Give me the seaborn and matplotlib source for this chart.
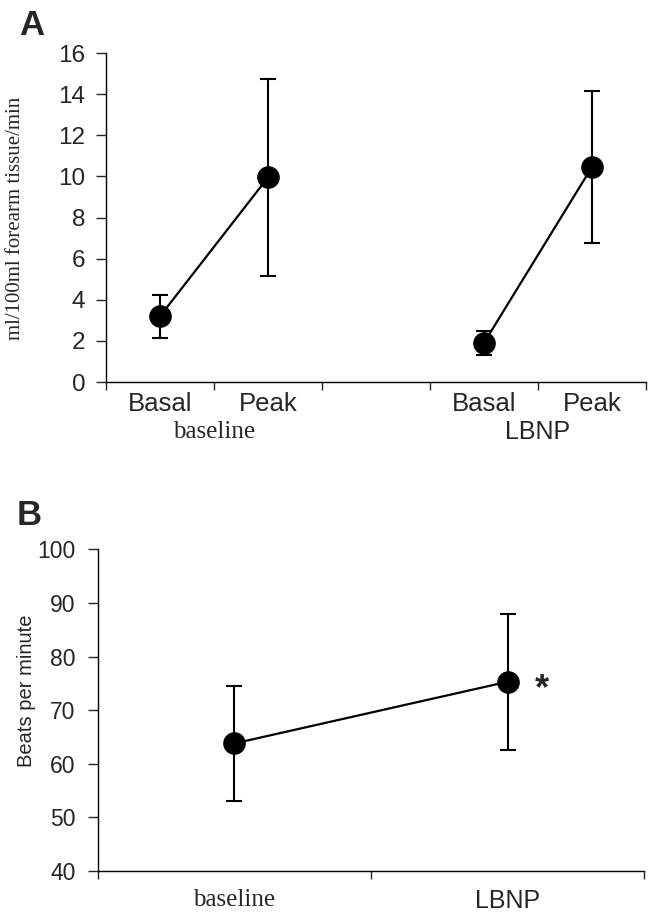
import matplotlib
matplotlib.use("Agg")
import matplotlib.pyplot as plt
import seaborn as sns
import pandas as pd

# panel A: forearm blood flow
flow_group = ["baseline", "baseline", "LBNP", "LBNP"]
flow_phase = ["Basal", "Peak", "Basal", "Peak"]
flow_mean = [3.2, 9.95, 1.9, 10.45]
flow_err = [1.05, 4.8, 0.6, 3.7]
groups_a = ["baseline", "LBNP"]
phases_a = ["Basal", "Peak"]

# panel B: heart rate
hr_group = ["baseline", "LBNP"]
hr_mean = [63.8, 75.3]
hr_err = [10.8, 12.7]

SANS = "Liberation Sans"
SERIF = "Liberation Serif"

sns.set_style("ticks")
plt.rcParams["font.family"] = [SANS, "DejaVu Sans"]

fig = plt.figure(figsize=(6.52, 9.14), dpi=100)

# ---------- panel A ----------
ax = fig.add_axes([0.1626, 0.582, 0.828, 0.360])
pos_a = [groups_a.index(g) * 3 + phases_a.index(p) for g, p in zip(flow_group, flow_phase)]
df_a = pd.DataFrame({"pos": pos_a, "mean": flow_mean, "group": flow_group})

ax.errorbar(pos_a, flow_mean, yerr=flow_err, fmt="none", ecolor="black",
            elinewidth=1.5, capsize=5.5, capthick=1.5, zorder=2)
sns.lineplot(data=df_a, x="pos", y="mean", units="group", estimator=None,
             color="black", marker="o", markersize=15.5, linewidth=1.6,
             markeredgecolor="black", ax=ax, zorder=3)

ax.set_xlim(-0.5, 4.5)
ax.set_ylim(0, 16)
ax.set_yticks(range(0, 17, 2))
ax.set_xticks([-0.5, 0.5, 1.5, 2.5, 3.5, 4.5], [""] * 6)
ax.set_xticks(pos_a, flow_phase, minor=True)
ax.tick_params(axis="x", which="minor", length=0, pad=7, labelsize=18.5)
ax.tick_params(axis="x", which="major", length=6, width=1, direction="out")
ax.tick_params(axis="y", length=7, width=1, pad=8, labelsize=17.5)
ax.set_xlabel("")
ax.set_ylabel("ml/100ml forearm tissue/min", fontsize=15, family=[SERIF])
ax.yaxis.set_label_coords(-0.150, 0.498)
for g_i, g in enumerate(groups_a):
    fam = SERIF if g == "baseline" else SANS
    ax.annotate(g, xy=(g_i * 3 + 0.5, 0), xycoords=("data", "axes fraction"),
                xytext=(0, -36), textcoords="offset points",
                ha="center", va="center", fontsize=18, family=[fam])
sns.despine(ax=ax)
for s in ["left", "bottom"]:
    ax.spines[s].set_color("black")
    ax.spines[s].set_linewidth(1)

# ---------- panel B ----------
bx = fig.add_axes([0.150, 0.047, 0.838, 0.352])
pos_b = list(range(len(hr_group)))
df_b = pd.DataFrame({"pos": pos_b, "mean": hr_mean})

bx.errorbar(pos_b, hr_mean, yerr=hr_err, fmt="none", ecolor="black",
            elinewidth=1.5, capsize=5.5, capthick=1.5, zorder=2)
sns.lineplot(data=df_b, x="pos", y="mean", estimator=None, color="black",
             marker="o", markersize=15.5, linewidth=1.6,
             markeredgecolor="black", ax=bx, zorder=3)

bx.set_xlim(-0.5, 1.5)
bx.set_ylim(40, 100)
bx.set_yticks(range(40, 101, 10))
bx.set_xticks([-0.5, 0.5, 1.5], [""] * 3)
bx.set_xticks(pos_b, hr_group, minor=True)
bx.tick_params(axis="x", which="minor", length=0, pad=13, labelsize=18)
bx.tick_params(axis="x", which="major", length=6, width=1, direction="out")
bx.tick_params(axis="y", length=7, width=1, pad=9, labelsize=16.5)
for lab in bx.get_xticklabels(minor=True):
    lab.set_family([SERIF] if lab.get_text() == "baseline" else [SANS])
bx.set_xlabel("")
bx.set_ylabel("Beats per minute", fontsize=14.5)
bx.yaxis.set_label_coords(-0.113, 0.559)
bx.annotate("*", xy=(pos_b[1], hr_mean[1]), xytext=(25, -6),
            textcoords="offset points", ha="center", va="center",
            fontsize=26, fontweight="bold")
sns.despine(ax=bx)
for s in ["left", "bottom"]:
    bx.spines[s].set_color("black")
    bx.spines[s].set_linewidth(1)

# panel letters
fig.text(0.030, 1 - 35 / 914, "A", fontsize=25, fontweight="bold", va="baseline")
fig.text(0.026, 1 - 525 / 914, "B", fontsize=25, fontweight="bold", va="baseline")

fig.savefig("out.png", dpi=100)
